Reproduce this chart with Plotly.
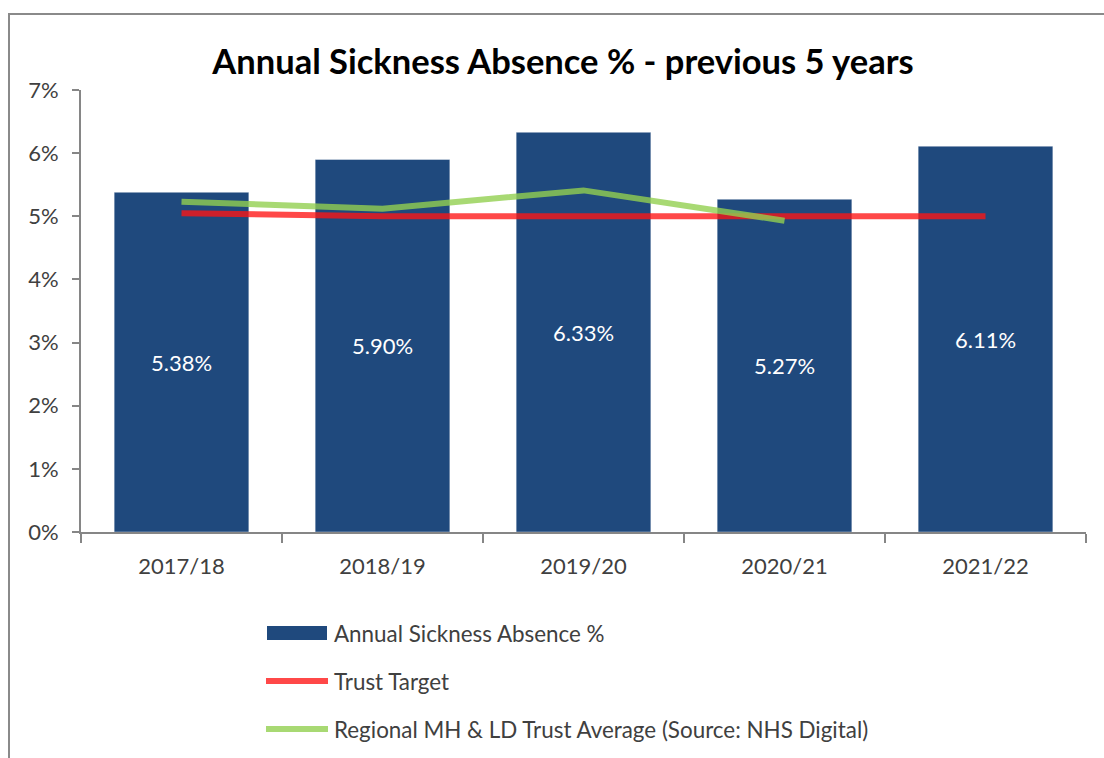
import plotly.graph_objects as go

years = ["2017/18", "2018/19", "2019/20", "2020/21", "2021/22"]
absence = [5.38, 5.90, 6.33, 5.27, 6.11]
target_years = ["2017/18", "2018/19", "2019/20", "2020/21", "2021/22"]
target = [5.05, 5.0, 5.0, 5.0, 5.0]
regional_years = ["2017/18", "2018/19", "2019/20", "2020/21"]
regional = [5.23, 5.12, 5.41, 4.93]
y_ticks = [0, 1, 2, 3, 4, 5, 6, 7]
y_tick_labels = ["0%", "1%", "2%", "3%", "4%", "5%", "6%", "7%"]
legend_names = ["Annual Sickness Absence %", "Trust Target",
                "Regional MH & LD Trust Average (Source: NHS Digital)"]

FONT = "Lato, 'Open Sans', sans-serif"
BAR = "#1F497D"
RED = "rgba(255,20,20,0.78)"
GREEN = "rgba(146,208,80,0.8)"

fig = go.Figure()
fig.add_trace(go.Bar(
    x=years, y=absence, name=legend_names[0], marker_color=BAR,
    marker_line=dict(color="rgba(255,255,255,0.4)", width=1),
    text=[f"{v:.2f}%" for v in absence], textposition="inside",
    insidetextanchor="middle", textangle=0,
    textfont=dict(color="white", size=22, family=FONT),
))
fig.add_trace(go.Scatter(
    x=target_years, y=target, name=legend_names[1], mode="lines",
    line=dict(color=RED, width=6),
))
fig.add_trace(go.Scatter(
    x=regional_years, y=regional, name=legend_names[2], mode="lines",
    line=dict(color=GREEN, width=6),
))

# Custom legend (wide swatches like the original)
H = 442.0
def py(pix):
    return (532 - pix) / H
def px(pix):
    return (pix - 81) / 1005.0

fig.add_shape(type="rect", xref="paper", yref="paper",
              x0=px(267), x1=px(327), y0=py(640), y1=py(626),
              fillcolor=BAR, line=dict(width=0))
fig.add_shape(type="line", xref="paper", yref="paper",
              x0=px(266), x1=px(328), y0=py(681), y1=py(681),
              line=dict(color=RED, width=6))
fig.add_shape(type="line", xref="paper", yref="paper",
              x0=px(266), x1=px(328), y0=py(729), y1=py(729),
              line=dict(color=GREEN, width=6))
for name, yy in zip(legend_names, [633, 681, 729]):
    fig.add_annotation(xref="paper", yref="paper", x=px(332), y=py(yy),
                       text=name, showarrow=False, xanchor="left",
                       yanchor="middle",
                       font=dict(size=22.4, color="#404040", family=FONT))

# outer frame
fig.add_shape(type="rect", xref="paper", yref="paper",
              x0=px(9), x1=px(1120), y0=py(780), y1=py(14),
              line=dict(color="#8a8a8a", width=2), fillcolor="rgba(0,0,0,0)",
              layer="below")

fig.update_layout(
    width=1104, height=758,
    margin=dict(l=81, r=18, t=90, b=226),
    paper_bgcolor="white", plot_bgcolor="white",
    showlegend=False,
    bargap=0.33,
    title=dict(text="<b>Annual Sickness Absence % - previous 5 years</b>",
               x=563/1104, xanchor="center", y=1-62/758, yanchor="middle",
               font=dict(size=34.5, color="black", family=FONT)),
    font=dict(family=FONT, color="#404040"),
)
fig.update_yaxes(range=[0, 7], tickvals=y_ticks, ticktext=y_tick_labels,
                 showgrid=False, zeroline=False,
                 showline=True, linecolor="#868686", linewidth=2,
                 ticks="outside", ticklen=7, tickcolor="#868686", tickwidth=2,
                 ticklabelstandoff=9,
                 tickfont=dict(size=22, color="#404040", family=FONT))
fig.update_xaxes(type="category", tickson="boundaries",
                 showgrid=False, showline=True, linecolor="#868686",
                 linewidth=2, ticks="outside", ticklen=9, tickcolor="#868686",
                 tickwidth=2, ticklabelstandoff=14,
                 tickfont=dict(size=22, color="#404040", family=FONT))

fig.write_html("out.html")
